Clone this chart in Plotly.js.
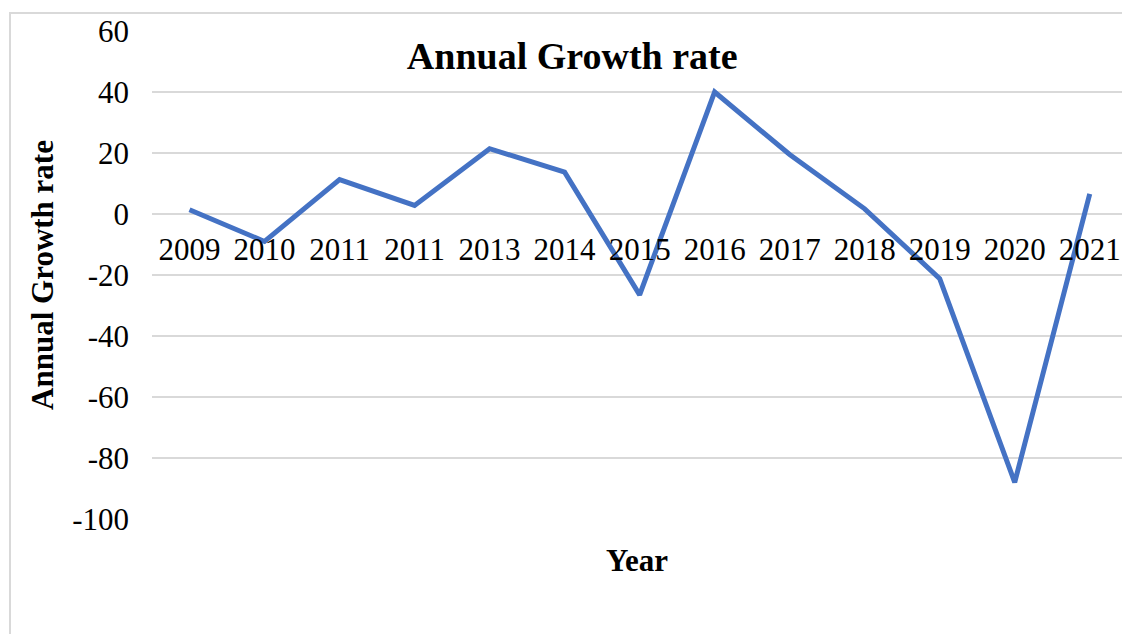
<!DOCTYPE html>
<html>
<head>
<meta charset="utf-8">
<script src="https://cdn.plot.ly/plotly-3.0.1.min.js"></script>
<style>
  html, body { margin: 0; padding: 0; background: #fff; }
  #wrap { position: relative; width: 1122px; height: 634px; overflow: hidden; }
  #chart { width: 1122px; height: 634px; }
  #frame { position: absolute; left: 9px; top: 12px; width: 1200px; height: 700px;
           border: 2px solid #d9d9d9; pointer-events: none; box-sizing: border-box; }
</style>
</head>
<body>
<div id="wrap">
  <div id="chart"></div>
  <div id="frame"></div>
</div>
<script>
// Data
const yearLabels = ['2009','2010','2011','2011','2013','2014','2015','2016','2017','2018','2019','2020','2021'];
const growthRate = [1.4, -9, 11.3, 2.8, 21.4, 13.7, -26.5, 40, 19.5, 1.7, -21.2, -88, 6.6];
const yTicks = [-100, -80, -60, -40, -20, 0, 20, 40, 60];
const xTitle = 'Year';
const yTitle = 'Annual Growth rate';
const chartTitle = 'Annual Growth rate';

const idx = yearLabels.map((_, i) => i);
const serif = 'Liberation Serif, Times New Roman, serif';

const yMin = -100, yMax = 60;

const trace = {
  x: idx,
  y: growthRate,
  type: 'scatter',
  mode: 'lines',
  line: { color: '#4472C4', width: 5 },
  hoverinfo: 'skip',
  showlegend: false
};

const xRange = [-0.5, 12.43];

const layout = {
  width: 1122,
  height: 634,
  margin: { l: 152, r: 0, t: 31, b: 115 },
  paper_bgcolor: '#ffffff',
  plot_bgcolor: '#ffffff',
  font: { family: serif, color: '#000000', size: 31 },
  showlegend: false,
  title: {
    text: '<b>' + chartTitle + '</b>',
    font: { family: serif, size: 38, color: '#000000' },
    xref: 'container', yref: 'container',
    x: 0.51, xanchor: 'center',
    y: 0.912, yanchor: 'middle'
  },
  xaxis: {
    range: xRange,
    anchor: 'free',
    position: (0 - yMin) / (yMax - yMin),
    side: 'bottom',
    tickmode: 'array',
    tickvals: idx,
    ticktext: yearLabels,
    showgrid: false,
    zeroline: false,
    showline: false,
    ticks: '',
    ticklabelstandoff: 14,
    tickfont: { family: serif, size: 31, color: '#000' },
    fixedrange: true
  },
  yaxis: {
    range: [yMin, yMax],
    tickmode: 'array',
    tickvals: yTicks,
    ticktext: yTicks.map(String),
    showgrid: true,
    gridcolor: '#d9d9d9',
    gridwidth: 2,
    zeroline: false,
    showline: false,
    ticks: '',
    ticklabelstandoff: 22,
    tickfont: { family: serif, size: 31, color: '#000' },
    fixedrange: true,
    title: { text: '<b>' + yTitle + '</b>', font: { family: serif, size: 31, color: '#000' }, standoff: 9 }
  },
  annotations: [{
    text: '<b>' + xTitle + '</b>',
    xref: 'paper', yref: 'paper',
    x: 0.5, xanchor: 'center',
    y: 0, yanchor: 'middle', yshift: -41,
    showarrow: false,
    font: { family: serif, size: 31, color: '#000' }
  }]
};

Plotly.newPlot('chart', [trace], layout, { displayModeBar: false, staticPlot: true });
</script>
</body>
</html>
